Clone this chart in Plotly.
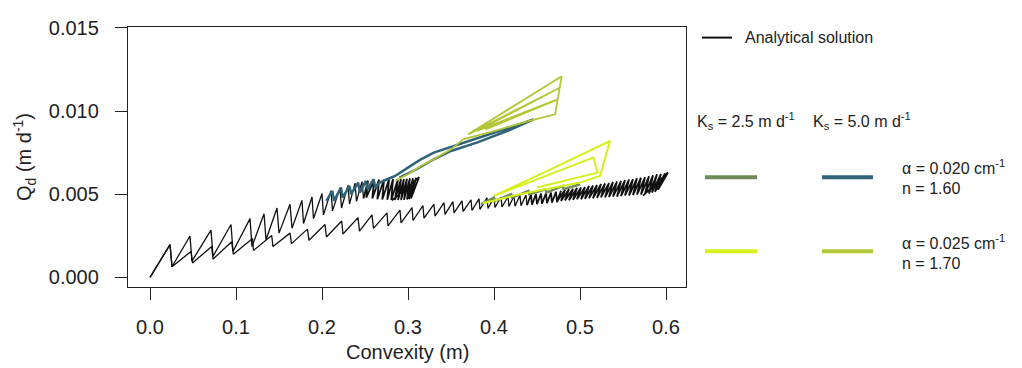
import plotly.graph_objects as go

# ---------------- data ----------------
x_ticks = [0.0, 0.1, 0.2, 0.3, 0.4, 0.5, 0.6]
x_tick_labels = ["0.0", "0.1", "0.2", "0.3", "0.4", "0.5", "0.6"]
y_ticks = [0.0, 0.005, 0.010, 0.015]
y_tick_labels = ["0.000", "0.005", "0.010", "0.015"]

# Analytical solution, upper curve (Ks = 5.0): sparse teeth, then the dense end
ana_ks5_x = [0.0, 0.0233, 0.0256, 0.0465, 0.0488, 0.0709, 0.0733, 0.0942, 0.0965, 0.1163, 0.1186,
             0.1326, 0.1349, 0.1477, 0.1500, 0.1628, 0.1651, 0.1767, 0.1785, 0.1884, 0.1901, 0.2000,
             0.2017, 0.2105, 0.2122, 0.2209, 0.2227, 0.2302, 0.2320, 0.2384, 0.2401, 0.2465, 0.2483]
ana_ks5_y = [0.0, 0.00197, 0.00064, 0.00249, 0.00098, 0.00284, 0.00127, 0.00318, 0.00156, 0.00353, 0.00185,
             0.00382, 0.00226, 0.00417, 0.00266, 0.00440, 0.00295, 0.00463, 0.00324, 0.00483, 0.00353, 0.00504,
             0.00376, 0.00521, 0.00400, 0.00538, 0.00417, 0.00553, 0.00440, 0.00567, 0.00457, 0.00576, 0.00475]
ana_ks5_end_x = [0.2483, 0.2535, 0.2515, 0.2605, 0.2585, 0.2663, 0.2643, 0.2721, 0.2701, 0.2779, 0.2759,
                 0.2826, 0.2806, 0.2884, 0.2849, 0.2919, 0.2884, 0.2953, 0.2919, 0.2988, 0.2953, 0.3023,
                 0.2988, 0.3058, 0.3012, 0.3093, 0.3035, 0.3128, 0.2814]
ana_ks5_end_y = [0.00475, 0.00582, 0.00480, 0.00585, 0.00475, 0.00588, 0.00470, 0.00588, 0.00468, 0.00588, 0.00466,
                 0.00591, 0.00465, 0.00591, 0.00465, 0.00591, 0.00465, 0.00591, 0.00465, 0.00593, 0.00466, 0.00596,
                 0.00468, 0.00596, 0.00470, 0.00599, 0.00475, 0.00602, 0.00463]

# Analytical solution, lower curve (Ks = 2.5)
ana_ks25_x = [0.0, 0.0233, 0.0256, 0.0477, 0.0494, 0.0717, 0.0733, 0.0950, 0.0969, 0.1192, 0.1203,
              0.1415, 0.1430, 0.1628, 0.1645, 0.1831, 0.1849, 0.2035, 0.2052, 0.2229, 0.2244, 0.2419,
              0.2436, 0.2581, 0.2599, 0.2756, 0.2767, 0.2907, 0.2919, 0.3047, 0.3058, 0.3174, 0.3186,
              0.3302, 0.3314, 0.3419, 0.3430, 0.3523, 0.3535, 0.3628, 0.3640, 0.3733, 0.3744, 0.3826,
              0.3837, 0.3919, 0.3930, 0.4000, 0.4012, 0.4081, 0.4093, 0.4163, 0.4174, 0.4233, 0.4244,
              0.4302, 0.4314, 0.4372, 0.4384]
ana_ks25_y = [0.0, 0.00197, 0.00064, 0.00156, 0.00087, 0.00185, 0.00110, 0.00214, 0.00139, 0.00234, 0.00162,
              0.00252, 0.00185, 0.00266, 0.00203, 0.00290, 0.00223, 0.00318, 0.00243, 0.00339, 0.00261, 0.00359,
              0.00278, 0.00376, 0.00295, 0.00388, 0.00310, 0.00405, 0.00327, 0.00420, 0.00342, 0.00431, 0.00356,
              0.00440, 0.00368, 0.00449, 0.00379, 0.00455, 0.00388, 0.00460, 0.00397, 0.00466, 0.00402, 0.00472,
              0.00408, 0.00478, 0.00414, 0.00481, 0.00420, 0.00483, 0.00423, 0.00486, 0.00426, 0.00489, 0.00428,
              0.00492, 0.00431, 0.00495, 0.00434]
ana_ks25_end_x = [0.4384, 0.4430, 0.4442, 0.4488, 0.4500, 0.4547, 0.4558, 0.4605, 0.4616, 0.4663, 0.4674,
                  0.4721, 0.4733,
                  0.4779, 0.4733, 0.4826, 0.4779, 0.4872, 0.4826, 0.4919, 0.4872, 0.4965, 0.4919, 0.5012,
                  0.4965, 0.5058, 0.5012, 0.5105, 0.5058, 0.5151, 0.5105, 0.5198, 0.5151, 0.5244, 0.5198,
                  0.5291, 0.5244, 0.5337, 0.5291, 0.5384, 0.5337, 0.5430, 0.5384, 0.5477, 0.5430, 0.5523,
                  0.5477, 0.5570, 0.5523, 0.5616, 0.5570, 0.5663, 0.5616, 0.5709, 0.5663, 0.5756, 0.5709,
                  0.5802, 0.5756, 0.5849, 0.5802, 0.5895, 0.5837, 0.5942, 0.5872, 0.5988, 0.5907, 0.6023,
                  0.5733]
ana_ks25_end_y = [0.00434, 0.00498, 0.00437, 0.00501, 0.00440, 0.00504, 0.00443, 0.00507, 0.00446, 0.00510, 0.00449,
                  0.00515, 0.00452,
                  0.00521, 0.00457, 0.00527, 0.00460, 0.00530, 0.00463, 0.00533, 0.00463, 0.00538, 0.00466, 0.00541,
                  0.00469, 0.00544, 0.00469, 0.00550, 0.00472, 0.00553, 0.00475, 0.00556, 0.00475, 0.00562, 0.00478,
                  0.00565, 0.00481, 0.00567, 0.00481, 0.00573, 0.00483, 0.00576, 0.00486, 0.00579, 0.00486, 0.00585,
                  0.00489, 0.00588, 0.00492, 0.00591, 0.00492, 0.00596, 0.00495, 0.00599, 0.00498, 0.00602, 0.00498,
                  0.00608, 0.00501, 0.00614, 0.00504, 0.00620, 0.00510, 0.00622, 0.00515, 0.00625, 0.00527, 0.00631,
                  0.00492]

# Numerical: Ks = 5.0, alpha = 0.020, n = 1.60 (teal)
ks5_a020_x = [0.205, 0.212, 0.214, 0.222, 0.224, 0.232, 0.234, 0.242, 0.244, 0.251, 0.253, 0.260, 0.262,
              0.267, 0.276, 0.285, 0.300, 0.315, 0.330, 0.360, 0.400, 0.446, 0.420, 0.380, 0.350, 0.330,
              0.310, 0.290]
ks5_a020_y = [0.0046, 0.0052, 0.0046, 0.0054, 0.0048, 0.0055, 0.0050, 0.0057, 0.0051, 0.0058, 0.0053, 0.0059,
              0.0054, 0.0057, 0.0059, 0.0061, 0.0066, 0.0071, 0.0075, 0.0080, 0.0087, 0.0095, 0.0089, 0.0081,
              0.0076, 0.0071, 0.0065, 0.0060]

# Numerical: Ks = 5.0, alpha = 0.025, n = 1.70 (olive yellow)
ks5_a025_x = [0.285, 0.300, 0.315, 0.330, 0.350, 0.364, 0.400, 0.440, 0.471, 0.4787, 0.370, 0.4765,
              0.380, 0.474, 0.390]
ks5_a025_y = [0.0058, 0.0062, 0.0067, 0.0071, 0.0077, 0.0083, 0.0088, 0.0094, 0.0098, 0.0121, 0.0086, 0.0114,
              0.0088, 0.0107, 0.0089]

# Numerical: Ks = 2.5, alpha = 0.025, n = 1.70 (bright yellow)
ks25_a025_x = [0.387, 0.430, 0.470, 0.500, 0.5233, 0.5349, 0.470, 0.420, 0.400, 0.5155, 0.5205, 0.450]
ks25_a025_y = [0.00446, 0.0050, 0.0054, 0.0057, 0.0061, 0.0082, 0.0066, 0.0054, 0.0049, 0.0072, 0.0063, 0.0054]

# Numerical: Ks = 2.5, alpha = 0.020, n = 1.60 (olive green)
ks25_a020_x = [0.385, 0.400, 0.401, 0.420, 0.421, 0.440, 0.441, 0.460, 0.461, 0.480, 0.481, 0.500]
ks25_a020_y = [0.0044, 0.0048, 0.0046, 0.0050, 0.0048, 0.0052, 0.0050, 0.0053, 0.0051, 0.0055, 0.0053, 0.0056]

# ---------------- styling ----------------
FONT = "Liberation Sans, Arial, sans-serif"
C_BLACK = "#111111"
C_TEAL = "#2f6478"
C_OLIVE = "#6f8c58"
C_YELLOW = "#d6f01c"
C_OLIVEYEL = "#b2c636"

fig = go.Figure()


def add_line(x, y, color, width):
    fig.add_trace(go.Scatter(x=x, y=y, mode="lines", line=dict(color=color, width=width),
                             hoverinfo="skip", showlegend=False))


add_line(ana_ks5_x, ana_ks5_y, C_BLACK, 1.3)
add_line(ana_ks5_end_x, ana_ks5_end_y, C_BLACK, 1.8)
add_line(ana_ks25_x, ana_ks25_y, C_BLACK, 1.3)
add_line(ana_ks25_end_x, ana_ks25_end_y, C_BLACK, 1.8)
add_line(ks25_a020_x, ks25_a020_y, C_OLIVE, 2.5)
add_line(ks25_a025_x, ks25_a025_y, C_YELLOW, 2.0)
add_line(ks5_a020_x, ks5_a020_y, C_TEAL, 2.5)
add_line(ks5_a025_x, ks5_a025_y, C_OLIVEYEL, 1.8)

# plot box in page pixels (the page body adds an 8 px offset)
OFF = 8
L, R, T, B = 128, 686, 17, 287
W, H = 1022 - OFF, 368 - OFF


def px(xp):
    return (xp - L) / (R - L)


def py(yp):
    return (B - yp) / (B - T)


axis_common = dict(showline=True, mirror=True, linecolor="#222222", linewidth=1.3,
                   ticks="outside", ticklen=12, tickwidth=1.2, tickcolor="#222222",
                   showgrid=False, zeroline=False, ticklabeloverflow="allow",
                   tickfont=dict(family=FONT, size=20, color="#222222"))

fig.update_layout(
    width=W, height=H,
    margin=dict(l=L - OFF, r=W - (R - OFF), t=T - OFF, b=H - (B - OFF)),
    paper_bgcolor="white", plot_bgcolor="white",
    xaxis=dict(range=[-0.02558, 0.62326], tickvals=x_ticks, ticktext=x_tick_labels,
               ticklabelstandoff=10, **axis_common),
    yaxis=dict(range=[-0.000579, 0.015055], tickvals=y_ticks, ticktext=y_tick_labels,
               ticklabelstandoff=12, **axis_common),
)

ann = []
ann.append(dict(x=0.5, y=py(354), xref="paper", yref="paper", text="Convexity (m)",
                showarrow=False, xanchor="center", yanchor="middle",
                font=dict(family=FONT, size=20, color="#222222")))
ann.append(dict(x=px(24), y=0.5, xref="paper", yref="paper", text="Q<sub>d</sub> (m d<sup>-1</sup>)",
                showarrow=False, xanchor="center", yanchor="middle", textangle=-90,
                font=dict(family=FONT, size=20, color="#222222")))

legend_font = dict(family=FONT, size=16, color="#222222")


def text(xp, yp, s):
    ann.append(dict(x=px(xp), y=py(yp), xref="paper", yref="paper", text=s, showarrow=False,
                    xanchor="left", yanchor="middle", font=legend_font))


text(743, 28, "Analytical solution")
text(695, 115, "K<sub>s</sub> = 2.5 m d<sup>-1</sup>")
text(811, 115, "K<sub>s</sub> = 5.0 m d<sup>-1</sup>")
text(900, 162, "α = 0.020 cm<sup>-1</sup>")
text(900, 185, "n = 1.60")
text(900, 240, "α = 0.025 cm<sup>-1</sup>")
text(900, 263, "n = 1.70")

shapes = []


def seg(x0, x1, yp, color, width):
    shapes.append(dict(type="line", xref="paper", yref="paper", x0=px(x0), x1=px(x1),
                       y0=py(yp), y1=py(yp), line=dict(color=color, width=width)))


seg(702, 732, 28, C_BLACK, 2)
seg(705, 757, 173, C_OLIVE, 4)
seg(822, 873, 173, C_TEAL, 4)
seg(705, 757, 250, C_YELLOW, 4)
seg(822, 873, 250, C_OLIVEYEL, 4)

fig.update_layout(annotations=ann, shapes=shapes)

fig.write_html("out.html")
